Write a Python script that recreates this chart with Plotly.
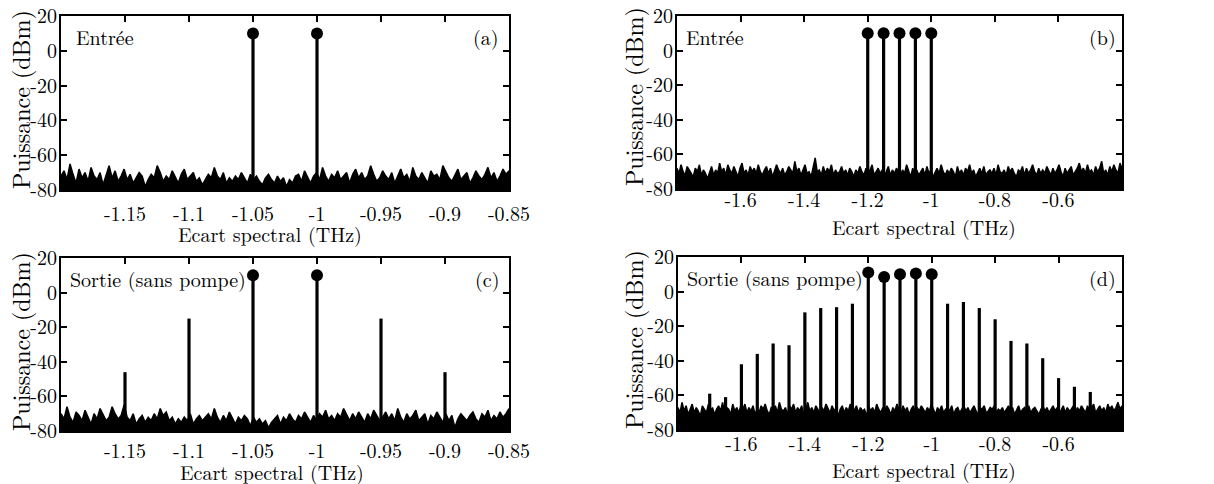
import numpy as np
import plotly.graph_objects as go

# ---------------- data ----------------
X_RANGE_NARROW = [-1.2, -0.85]
X_RANGE_WIDE = [-1.8, -0.4]
Y_RANGE = [-80, 20]
Y_TICKS = [20, 0, -20, -40, -60, -80]
X_TICKS_NARROW = [-1.15, -1.1, -1.05, -1.0, -0.95, -0.9, -0.85]
X_TICKTEXT_NARROW = ["-1.15", "-1.1", "-1.05", "-1", "-0.95", "-0.9", "-0.85"]
X_TICKS_WIDE = [-1.6, -1.4, -1.2, -1.0, -0.8, -0.6]
X_TICKTEXT_WIDE = ["-1.6", "-1.4", "-1.2", "-1", "-0.8", "-0.6"]

# panel (a): input, 2 pumps
A_TONES_X = [-1.05, -1.0]
A_TONES_Y = [10, 10]
# panel (b): input, 5 tones
B_TONES_X = [-1.2, -1.15, -1.1, -1.05, -1.0]
B_TONES_Y = [10, 10, 10, 10, 10]
# panel (c): output, 2 tones + mixing products
C_TONES_X = [-1.05, -1.0]
C_TONES_Y = [10, 10]
C_SIDE_X = [-1.15, -1.1, -0.95, -0.9]
C_SIDE_Y = [-46, -15, -15, -46]
# panel (d): output, 5 tones + mixing products
D_TONES_X = [-1.2, -1.15, -1.1, -1.05, -1.0]
D_TONES_Y = [11, 8.5, 10, 10.5, 10]
D_SIDE_X = [-1.7, -1.65, -1.6, -1.55, -1.5, -1.45, -1.4, -1.35, -1.3, -1.25,
            -0.95, -0.9, -0.85, -0.8, -0.75, -0.7, -0.65, -0.6, -0.55, -0.5]
D_SIDE_Y = [-59, -61, -42, -36, -30, -31, -12, -9.5, -9, -7,
            -7, -6, -9.5, -16, -28.5, -30, -38.5, -50, -55, -58]

# noise floor (upper envelope, dBm)
NOISE_A = [
    -72, -69, -74, -65, -71, -76, -68, -73, -70, -75, -67, -72, -74, -70, -77, -71, -66, -73, -69, -75,
    -72, -68, -74, -71, -76, -73, -70, -72, -78, -74, -71, -73, -66, -70, -75, -72, -74, -69, -73, -76,
    -71, -68, -74, -72, -70, -75, -73, -77, -74, -71, -73, -67, -72, -74, -70, -76, -73, -75, -72, -74,
    -70, -73, -76, -71, -74, -72, -75, -77, -73, -71, -74, -76, -72, -75, -73, -78, -74, -76, -72, -71,
    -75, -69, -73, -76, -72, -70, -74, -67, -72, -75, -71, -73, -69, -74, -72, -70, -76, -71, -68, -73,
    -70, -74, -72, -66, -71, -75, -73, -69, -72, -74, -70, -76, -72, -68, -73, -71, -75, -67, -72, -74,
    -70, -73, -76, -69, -72, -71, -74, -66, -70, -73, -75, -71, -68, -74, -72, -70, -76, -73, -69, -72,
    -74, -71, -67, -73, -70, -75, -72, -68, -71, -69,
]
NOISE_C = [
    -70, -73, -66, -72, -75, -69, -71, -74, -68, -72, -76, -70, -73, -67, -71, -74, -72, -66, -70, -73,
    -71, -65, -72, -74, -70, -76, -73, -71, -75, -72, -74, -70, -73, -67, -71, -69, -74, -72, -76, -73,
    -75, -72, -74, -70, -76, -73, -71, -74, -72, -70, -73, -67, -72, -75, -71, -74, -69, -73, -76, -72,
    -74, -71, -73, -77, -72, -75, -73, -76, -74, -78, -75, -73, -71, -76, -72, -74, -70, -73, -75, -71,
    -73, -69, -72, -75, -71, -74, -70, -72, -68, -73, -71, -74, -70, -72, -67, -71, -74, -70, -73, -69,
    -72, -75, -70, -73, -68, -71, -74, -72, -69, -73, -70, -74, -67, -72, -75, -70, -73, -71, -68, -74,
    -72, -70, -76, -71, -73, -69, -72, -75, -70, -74, -71, -78, -73, -70, -72, -74, -71, -69, -73, -75,
    -70, -72, -68, -74, -71, -73, -69, -72, -70, -67,
]
NOISE_B = [
    -68, -71, -66, -70, -72, -67, -69, -71, -73, -68, -70, -66, -72, -69, -71, -74, -70, -67, -72, -69,
    -71, -65, -70, -68, -72, -66, -69, -71, -67, -70, -73, -68, -65, -71, -69, -72, -67, -70, -68, -71,
    -66, -70, -72, -69, -67, -71, -68, -73, -70, -66, -69, -71, -68, -72, -70, -67, -69, -71, -64, -70,
    -68, -72, -69, -66, -71, -70, -73, -68, -62, -70, -69, -72, -67, -71, -68, -70, -66, -72, -69, -71,
    -70, -67, -71, -69, -72, -68, -70, -73, -69, -71, -67, -70, -72, -68, -71, -69, -66, -72, -70, -68,
    -71, -69, -73, -70, -67, -72, -69, -71, -68, -70, -72, -69, -71, -66, -70, -73, -68, -71, -69, -72,
    -70, -68, -72, -67, -71, -69, -73, -70, -68, -71, -66, -70, -72, -69, -71, -68, -70, -73, -67, -71,
    -69, -72, -68, -70, -66, -71, -69, -73, -70, -68, -71, -67, -72, -70, -69, -71, -68, -72, -66, -70,
    -71, -69, -72, -67, -70, -68, -71, -73, -69, -70, -67, -72, -68, -71, -69, -66, -70, -72, -68, -71,
    -69, -71, -67, -70, -72, -68, -71, -69, -66, -70, -73, -68, -71, -69, -67, -72, -70, -68, -65, -70,
    -68, -71, -66, -70, -69, -72, -67, -70, -68, -64, -71, -69, -72, -67, -70, -66, -69, -71, -65, -68,
]
NOISE_D = [
    -67, -70, -64, -69, -66, -71, -68, -65, -70, -67, -69, -72, -66, -68, -70, -65, -69, -67, -71, -68,
    -66, -69, -64, -70, -67, -68, -71, -65, -69, -67, -70, -66, -68, -65, -70, -67, -69, -66, -71, -68,
    -70, -66, -68, -65, -69, -71, -67, -68, -66, -70, -64, -68, -69, -67, -71, -66, -68, -65, -70, -67,
    -69, -66, -71, -68, -64, -69, -67, -70, -66, -68, -71, -67, -69, -65, -68, -70, -66, -69, -67, -72,
    -68, -66, -70, -67, -69, -65, -71, -68, -66, -70, -67, -69, -68, -72, -66, -69, -67, -70, -65, -68,
    -70, -67, -69, -66, -68, -71, -67, -69, -65, -68, -70, -66, -69, -67, -71, -68, -66, -70, -67, -69,
    -66, -68, -70, -67, -69, -65, -68, -71, -67, -69, -66, -70, -68, -67, -69, -66, -71, -68, -67, -70,
    -68, -66, -69, -67, -70, -68, -66, -69, -71, -67, -68, -66, -70, -69, -67, -68, -66, -70, -68, -69,
    -67, -70, -68, -66, -69, -67, -71, -68, -66, -70, -68, -67, -69, -66, -70, -68, -67, -69, -71, -68,
    -66, -69, -67, -70, -68, -66, -69, -67, -71, -68, -66, -70, -67, -69, -68, -66, -70, -67, -69, -66,
    -68, -70, -66, -69, -67, -65, -70, -68, -66, -69, -67, -70, -65, -68, -66, -69, -67, -64, -68, -66,
]

PANEL_TEXT = ["Entrée", "Entrée", "Sortie (sans pompe)", "Sortie (sans pompe)"]
PANEL_TAGS = ["(a)", "(b)", "(c)", "(d)"]
X_TITLE = "Ecart spectral (THz)"
Y_TITLE = "Puissance (dBm)"

# ---------------- figure ----------------
OFF = 8                      # page body margin (figure starts 8 px into the window)
W, H = 1214 - OFF, 484 - OFF
FONT = "Latin Modern Roman"
FS = 20
FS_Y = 24

fig = go.Figure()

# pixel boxes of panels in window pixels: (left, right, top, bottom)
boxes = [(61, 509, 16, 190), (677, 1122, 16, 189), (61, 509, 258, 431), (678, 1122, 257, 430)]
# tick-label standoff per panel (negative = closer to the axis)
x_standoff = [5, -8, 1, -5]


def px(x):
    return (x - OFF) / W


def py(y):
    return 1 - (y - OFF) / H


panels = [
    dict(xr=X_RANGE_NARROW, noise=NOISE_A, tx=A_TONES_X, ty=A_TONES_Y, sx=[], sy=[],
         tv=X_TICKS_NARROW, tt=X_TICKTEXT_NARROW),
    dict(xr=X_RANGE_WIDE, noise=NOISE_B, tx=B_TONES_X, ty=B_TONES_Y, sx=[], sy=[],
         tv=X_TICKS_WIDE, tt=X_TICKTEXT_WIDE),
    dict(xr=X_RANGE_NARROW, noise=NOISE_C, tx=C_TONES_X, ty=C_TONES_Y, sx=C_SIDE_X, sy=C_SIDE_Y,
         tv=X_TICKS_NARROW, tt=X_TICKTEXT_NARROW),
    dict(xr=X_RANGE_WIDE, noise=NOISE_D, tx=D_TONES_X, ty=D_TONES_Y, sx=D_SIDE_X, sy=D_SIDE_Y,
         tv=X_TICKS_WIDE, tt=X_TICKTEXT_WIDE),
]

layout_axes = {}
annotations = []
for i, (p, box) in enumerate(zip(panels, boxes)):
    n = i + 1
    xa = "x" if n == 1 else f"x{n}"
    ya = "y" if n == 1 else f"y{n}"
    l, r, t, b = box
    ymin = Y_RANGE[0]
    # baseline for noise fill
    fig.add_trace(go.Scatter(x=p["xr"], y=[ymin, ymin], mode="lines",
                             line=dict(color="black", width=0), xaxis=xa, yaxis=ya,
                             showlegend=False, hoverinfo="skip"))
    nx = np.linspace(p["xr"][0], p["xr"][1], len(p["noise"]))
    fig.add_trace(go.Scatter(x=nx, y=p["noise"], mode="lines", fill="tonexty",
                             fillcolor="black", line=dict(color="black", width=1.5),
                             xaxis=xa, yaxis=ya, showlegend=False, hoverinfo="skip"))
    # spectral lines (stems)
    allx = list(p["tx"]) + list(p["sx"])
    ally = list(p["ty"]) + list(p["sy"])
    sxs, sys_ = [], []
    for xv, yv in zip(allx, ally):
        sxs += [xv, xv, None]
        sys_ += [ymin, yv, None]
    fig.add_trace(go.Scatter(x=sxs, y=sys_, mode="lines",
                             line=dict(color="black", width=3.2),
                             xaxis=xa, yaxis=ya, showlegend=False, hoverinfo="skip"))
    # dots on the main tones
    fig.add_trace(go.Scatter(x=p["tx"], y=p["ty"], mode="markers",
                             marker=dict(color="black", size=12),
                             xaxis=xa, yaxis=ya, showlegend=False, hoverinfo="skip"))

    axis_common = dict(showline=True, linecolor="black", linewidth=2, mirror="allticks",
                       ticks="inside", ticklen=6, tickwidth=1.5, tickcolor="black",
                       showgrid=False, zeroline=False, automargin=False,
                       ticklabeloverflow="allow",
                       tickfont=dict(family=FONT, size=FS, color="black"))
    layout_axes["xaxis" if n == 1 else f"xaxis{n}"] = dict(
        axis_common, domain=[px(l), px(r)], range=p["xr"], anchor=ya,
        tickvals=p["tv"], ticktext=p["tt"], ticklabelstandoff=x_standoff[i])
    layout_axes["yaxis" if n == 1 else f"yaxis{n}"] = dict(
        axis_common, domain=[py(b), py(t)], range=Y_RANGE, anchor=xa,
        tickvals=Y_TICKS, ticktext=[str(v) for v in Y_TICKS], ticklabelstandoff=-2)

    # in-panel labels
    annotations.append(dict(text=PANEL_TEXT[i], xref="paper", yref="paper",
                            x=px(l + (13 if i == 0 else 7)), y=py(t + 20),
                            xanchor="left", yanchor="middle", showarrow=False,
                            font=dict(family=FONT, size=FS, color="black")))
    annotations.append(dict(text=PANEL_TAGS[i], xref="paper", yref="paper",
                            x=px(r - (8 if i in (0, 2) else 4)), y=py(t + 20),
                            xanchor="right", yanchor="middle", showarrow=False,
                            font=dict(family=FONT, size=FS, color="black")))

# axis titles as annotations (window pixel centres)
xt_pos = [(270, 233), (924, 227), (272, 471), (924, 469)]
yt_pos = [(20, 100), (633, 97), (20, 342), (633, 340)]
for (xx, yy) in xt_pos:
    annotations.append(dict(text=X_TITLE, xref="paper", yref="paper", x=px(xx), y=py(yy),
                            xanchor="center", yanchor="middle", showarrow=False,
                            font=dict(family=FONT, size=FS, color="black")))
for (xx, yy) in yt_pos:
    annotations.append(dict(text=Y_TITLE, xref="paper", yref="paper", x=px(xx), y=py(yy),
                            xanchor="center", yanchor="middle", showarrow=False, textangle=-90,
                            font=dict(family=FONT, size=FS_Y, color="black")))

fig.update_layout(width=W, height=H, margin=dict(l=0, r=0, t=0, b=0, autoexpand=False),
                  paper_bgcolor="white", plot_bgcolor="white",
                  font=dict(family=FONT, size=FS, color="black"),
                  annotations=annotations, **layout_axes)

fig.write_html("out.html")
